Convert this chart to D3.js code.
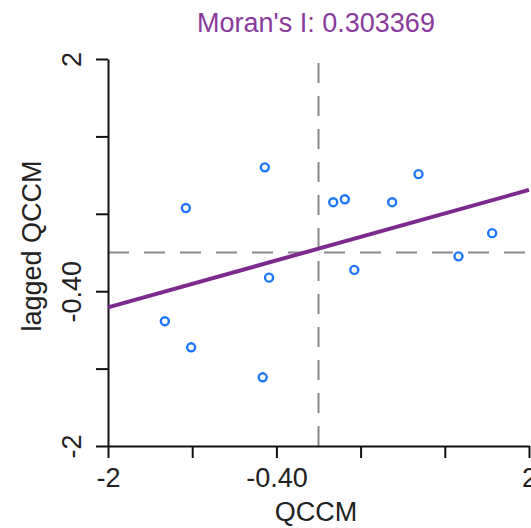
<!DOCTYPE html>
<html>
<head>
<meta charset="utf-8">
<script src="https://cdn.jsdelivr.net/npm/d3@7"></script>
<style>
  body { margin: 0; background: #fff; }
  svg text { font-family: "Liberation Sans", Arial, Helvetica, sans-serif; }
</style>
</head>
<body>
<div class="chart"></div>
<script>
// values
const qccm = [-0.51, -1.26, 0.14, 0.25, 0.70, 0.95, 1.65, 1.33, 0.34, -0.47, -1.46, -1.21, -0.53];
const laggedQccm = [0.88, 0.46, 0.52, 0.55, 0.52, 0.81, 0.20, -0.04, -0.18, -0.26, -0.71, -0.98, -1.29];
const moransI = 0.303369;
const intercept = 0.04;
const tickValues = [-2, -1.2, -0.4, 0.4, 1.2, 2];
const tickLabels = ["-2", "", "-0.40", "", "", "2"];
const meanX = 0, meanY = 0;

const width = 531, height = 528;
const fontSize = 27;
const svg = d3.select('.chart').append('svg')
  .attr('width', width).attr('height', height);

const x = d3.scaleLinear([-2, 2], [108, 529]);
const y = d3.scaleLinear([-2, 2], [446, 59]);

// dashed mean lines (vertical drawn from the bottom up)
svg.append('line')
  .attr('x1', x(meanX)).attr('x2', x(meanX))
  .attr('y1', y(-2)).attr('y2', y(2))
  .attr('stroke', '#888').attr('stroke-width', 2)
  .attr('stroke-dasharray', '20,13');
svg.append('line')
  .attr('x1', x(-2)).attr('x2', x(2))
  .attr('y1', y(meanY)).attr('y2', y(meanY))
  .attr('stroke', '#888').attr('stroke-width', 2)
  .attr('stroke-dasharray', '21,15');

// axes
const fmt = (d, i) => tickLabels[i];
const xAxis = d3.axisBottom(x).tickValues(tickValues).tickFormat(fmt).tickSizeInner(12).tickSizeOuter(0).tickPadding(6);
const yAxis = d3.axisLeft(y).tickValues(tickValues).tickFormat(fmt).tickSizeInner(12).tickSizeOuter(0).tickPadding(6);

const xAxisDraw = svg.append('g').attr('transform', `translate(0,${y(-2)})`).call(xAxis);
const yAxisDraw = svg.append('g').attr('transform', `translate(${x(-2)},0)`).call(yAxis);

[xAxisDraw, yAxisDraw].forEach(g => {
  g.select('.domain').attr('stroke', '#111').attr('stroke-width', 2);
  g.selectAll('.tick line').attr('stroke', '#111').attr('stroke-width', 2);
  g.selectAll('text').attr('font-size', fontSize).attr('fill', '#222');
});
xAxisDraw.selectAll('text').attr('dy', '0.85em');
yAxisDraw.selectAll('text')
  .attr('text-anchor', 'middle')
  .attr('transform', 'rotate(-90)')
  .attr('x', 0).attr('dy', 0)
  .attr('y', -27);

// regression line, slope = Moran's I
svg.append('line')
  .attr('x1', x(-2)).attr('x2', x(2))
  .attr('y1', y(intercept + moransI * -2)).attr('y2', y(intercept + moransI * 2))
  .attr('stroke', '#7d2a8e').attr('stroke-width', 4);

// points
svg.append('g').selectAll('circle')
  .data(qccm.map((d, i) => [d, laggedQccm[i]]))
  .join('circle')
  .attr('cx', d => x(d[0])).attr('cy', d => y(d[1]))
  .attr('r', 4)
  .attr('fill', 'none').attr('stroke', '#1f77ff').attr('stroke-width', 2.4);

// title and labels
svg.append('text').attr('x', 316).attr('y', 32)
  .attr('text-anchor', 'middle').attr('font-size', fontSize).attr('fill', '#8a3a9c')
  .text(`Moran's I: ${moransI}`);
svg.append('text').attr('x', 316).attr('y', 521)
  .attr('text-anchor', 'middle').attr('font-size', fontSize).attr('fill', '#222')
  .text('QCCM');
svg.append('text')
  .attr('transform', `translate(41,246) rotate(-90)`)
  .attr('text-anchor', 'middle').attr('font-size', fontSize).attr('fill', '#222')
  .text('lagged QCCM');
</script>
</body>
</html>
